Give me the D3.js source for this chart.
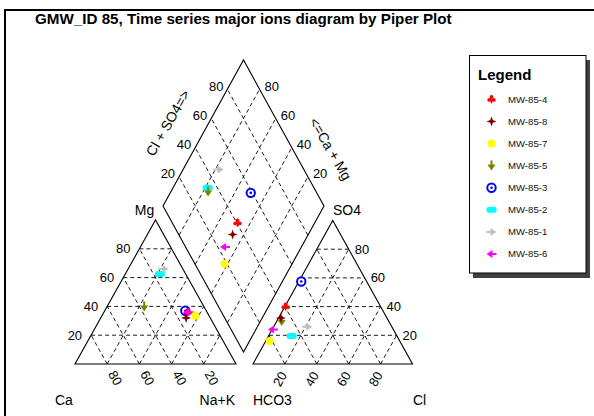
<!DOCTYPE html>
<html><head><meta charset="utf-8">
<script src="https://cdn.jsdelivr.net/npm/d3@7"></script>
<style>body{margin:0;background:#fff}svg{display:block;font-family:Arial,"Liberation Sans",sans-serif}</style>
</head><body>
<script>
// ---- data ----
const sampleIds = ["MW-85-1","MW-85-2","MW-85-3","MW-85-4","MW-85-5","MW-85-6","MW-85-7","MW-85-8"];
const caPct   = [12, 16, 13, 12, 37, 11.5, 8.5, 15];
const mgPct   = [66, 62.5, 37, 36, 40, 36, 33.5, 32];
const nakPct  = [22, 21.5, 50, 52, 23, 52.5, 58, 53];
const hco3Pct = [53, 66, 41, 59.5, 67, 75.5, 81.5, 66.5];
const so4Pct  = [26, 19.5, 57.5, 40, 30, 24, 16, 32];
const clPct   = [21, 14.5, 1.5, 0.5, 3, 0.5, 2.5, 1.5];
const legendOrder = ["MW-85-4","MW-85-8","MW-85-7","MW-85-5","MW-85-3","MW-85-2","MW-85-1","MW-85-6"];
const gridTicks = [20, 40, 60, 80];
const titleText = "GMW_ID 85, Time series major ions diagram by Piper Plot";

// ---- styles ----
const style = {
  "MW-85-1": {color: "#c0c0c0", shape: "arrowR"},
  "MW-85-2": {color: "#00ffff", shape: "pill"},
  "MW-85-3": {color: "#0000ff", shape: "ring"},
  "MW-85-4": {color: "#ff0000", shape: "club"},
  "MW-85-5": {color: "#808000", shape: "arrowD"},
  "MW-85-6": {color: "#ff00ff", shape: "arrowL"},
  "MW-85-7": {color: "#ffff00", shape: "circle"},
  "MW-85-8": {color: "#800000", shape: "star4"}
};

const W = 594, H = 416;
const svg = d3.select("body").append("svg").attr("width", W).attr("height", H);

// frame
svg.append("path").attr("d", `M5,${H+5} L5,10 L${W+5},10`).attr("fill","none").attr("stroke","#000").attr("stroke-width",2);

svg.append("text").attr("x", 35).attr("y", 24).attr("font-size", 15.2).attr("font-weight","bold").text(titleText);

// scales
const lx = d3.scaleLinear().domain([0,100]).range([75, 236]);
const ly = d3.scaleLinear().domain([0,100]).range([364, 220]);
const rx = d3.scaleLinear().domain([0,100]).range([253, 412.5]);
const ry = d3.scaleLinear().domain([0,100]).range([364, 220.5]);
const dX = d3.scaleLinear().domain([-100,100]).range([163, 324]);
const dY = d3.scaleLinear().domain([0,200]).range([352, 60]);

const catPt = (mg, nak) => [lx(nak) + (lx(mg)-lx(0))/2, ly(mg)];
const anPt  = (so4, cl) => [rx(cl) + (rx(so4)-rx(0))/2, ry(so4)];
const dmPt  = (cm, an) => [dX(an - cm), dY(an + cm)];

const line = d3.line();
const gEdge = svg.append("g").attr("fill","none").attr("stroke","#000").attr("stroke-width",1.1);
const gGrid = svg.append("g").attr("fill","none").attr("stroke","#000").attr("stroke-width",0.9).attr("stroke-dasharray","4,3");

// outlines
gEdge.append("path").attr("d", line([catPt(0,0), catPt(0,100), catPt(100,0)]) + "Z");
gEdge.append("path").attr("d", line([anPt(0,0), anPt(0,100), anPt(100,0)]) + "Z");
gEdge.append("path").attr("d", line([dmPt(0,0), dmPt(100,0), dmPt(100,100), dmPt(0,100)]) + "Z");

// grids
gridTicks.forEach(v => {
  gGrid.append("path").attr("d", line([catPt(v,0), catPt(v,100-v)]));
  gGrid.append("path").attr("d", line([catPt(0,v), catPt(100-v,v)]));
  gGrid.append("path").attr("d", line([catPt(0,100-v), catPt(100-v,0)]));
  gGrid.append("path").attr("d", line([anPt(v,0), anPt(v,100-v)]));
  gGrid.append("path").attr("d", line([anPt(0,v), anPt(100-v,v)]));
  gGrid.append("path").attr("d", line([anPt(0,100-v), anPt(100-v,0)]));
  gGrid.append("path").attr("d", line([dmPt(v,0), dmPt(v,100)]));
  gGrid.append("path").attr("d", line([dmPt(0,v), dmPt(100,v)]));
});

// tick labels
const gLab = svg.append("g").attr("font-size", 13).attr("fill","#000");
gridTicks.forEach(v => {
  let p = catPt(v, 0);
  gLab.append("text").attr("x", p[0]-9).attr("y", p[1]).attr("dy","0.35em").attr("text-anchor","end").text(v);
  p = catPt(0, 100 - v); // Ca = v on base
  gLab.append("text").attr("transform", `translate(${p[0]+8},${p[1]+14}) rotate(60)`).attr("dy","0.35em").attr("text-anchor","middle").text(v);
  p = anPt(v, 100 - v);
  gLab.append("text").attr("x", p[0]+6).attr("y", p[1]).attr("dy","0.35em").attr("text-anchor","start").text(v);
  p = anPt(0, v);
  gLab.append("text").attr("transform", `translate(${p[0]-5},${p[1]+15}) rotate(-60)`).attr("dy","0.35em").attr("text-anchor","middle").text(v);
  p = dmPt(100, v);
  gLab.append("text").attr("x", p[0]-4).attr("y", p[1]-3).attr("dy","0.35em").attr("text-anchor","end").text(v);
  p = dmPt(v, 100);
  gLab.append("text").attr("x", p[0]+5).attr("y", p[1]-3).attr("dy","0.35em").attr("text-anchor","start").text(v);
});

// axis names
const gName = svg.append("g").attr("font-size", 14).attr("fill","#000");
gName.append("text").attr("x", 144.5).attr("y", 215).attr("text-anchor","middle").text("Mg");
gName.append("text").attr("x", 333).attr("y", 215).text("SO4");
gName.append("text").attr("x", 55).attr("y", 405).text("Ca");
gName.append("text").attr("x", 235).attr("y", 405).attr("text-anchor","end").text("Na+K");
gName.append("text").attr("x", 253).attr("y", 405).text("HCO3");
gName.append("text").attr("x", 413).attr("y", 405).text("Cl");
gName.append("text").attr("transform","translate(168,123) rotate(-60)").attr("text-anchor","middle").attr("dy","0.35em").text("Cl + SO4=>");
gName.append("text").attr("transform","translate(330.5,149) rotate(60)").attr("text-anchor","middle").attr("dy","0.35em").text("<=Ca + Mg");

// markers
function drawMarker(g, shape, color) {
  switch (shape) {
    case "circle":
      g.append("circle").attr("r", 4).attr("fill", color); break;
    case "ring":
      g.append("circle").attr("r", 4.2).attr("fill", "#fff").attr("stroke", color).attr("stroke-width", 2);
      g.append("circle").attr("r", 1.3).attr("fill", color); break;
    case "pill":
      g.append("rect").attr("x",-5).attr("y",-3).attr("width",10).attr("height",6).attr("rx",2.5).attr("fill", color); break;
    case "star4":
      g.append("path").attr("d","M0,-5L1.3,-1.3L5,0L1.3,1.3L0,5L-1.3,1.3L-5,0L-1.3,-1.3Z").attr("fill", color); break;
    case "club":
      g.append("circle").attr("cx",0).attr("cy",-2.3).attr("r",1.9).attr("fill",color);
      g.append("circle").attr("cx",-2.3).attr("cy",0.6).attr("r",1.9).attr("fill",color);
      g.append("circle").attr("cx",2.3).attr("cy",0.6).attr("r",1.9).attr("fill",color);
      g.append("rect").attr("x",-0.8).attr("y",-1).attr("width",1.6).attr("height",5).attr("fill",color); break;
    case "arrowD":
      g.append("path").attr("d","M-1,-5L1,-5L1,-1L4,-1L0,5L-4,-1L-1,-1Z").attr("fill", color); break;
    case "arrowR":
      g.append("path").attr("d","M-5,-1L-1,-1L-1,-4L5,0L-1,4L-1,1L-5,1Z").attr("fill", color); break;
    case "arrowL":
      g.append("path").attr("d","M5,-1L1,-1L1,-4L-5,0L1,4L1,1L5,1Z").attr("fill", color); break;
  }
}

const gPts = svg.append("g");
sampleIds.forEach((id, i) => {
  const s = style[id];
  const cm = caPct[i] + mgPct[i];
  const an = so4Pct[i] + clPct[i];
  [catPt(mgPct[i], nakPct[i]), anPt(so4Pct[i], clPct[i]), dmPt(cm, an)].forEach(p => {
    drawMarker(gPts.append("g").attr("transform", `translate(${p[0]},${p[1]})`), s.shape, s.color);
  });
});

// legend
const lg = svg.append("g");
lg.append("rect").attr("x", 473).attr("y", 60).attr("width", 117).attr("height", 218).attr("fill", "#404040");
lg.append("rect").attr("x", 469.5).attr("y", 55.5).attr("width", 116.5).attr("height", 217.5).attr("fill", "#fff").attr("stroke","#000").attr("stroke-width",1);
lg.append("text").attr("x", 478).attr("y", 80).attr("font-size", 15).attr("font-weight","bold").text("Legend");
const ly0 = d3.scaleLinear().domain([0, legendOrder.length - 1]).range([99.3, 254]);
legendOrder.forEach((id, k) => {
  const y = ly0(k);
  drawMarker(lg.append("g").attr("transform", `translate(491.5,${y})`), style[id].shape, style[id].color);
  lg.append("text").attr("x", 508).attr("y", y).attr("dy","0.35em").attr("font-size", 9.6).attr("fill","#111").text(id);
});
</script>
</body></html>
